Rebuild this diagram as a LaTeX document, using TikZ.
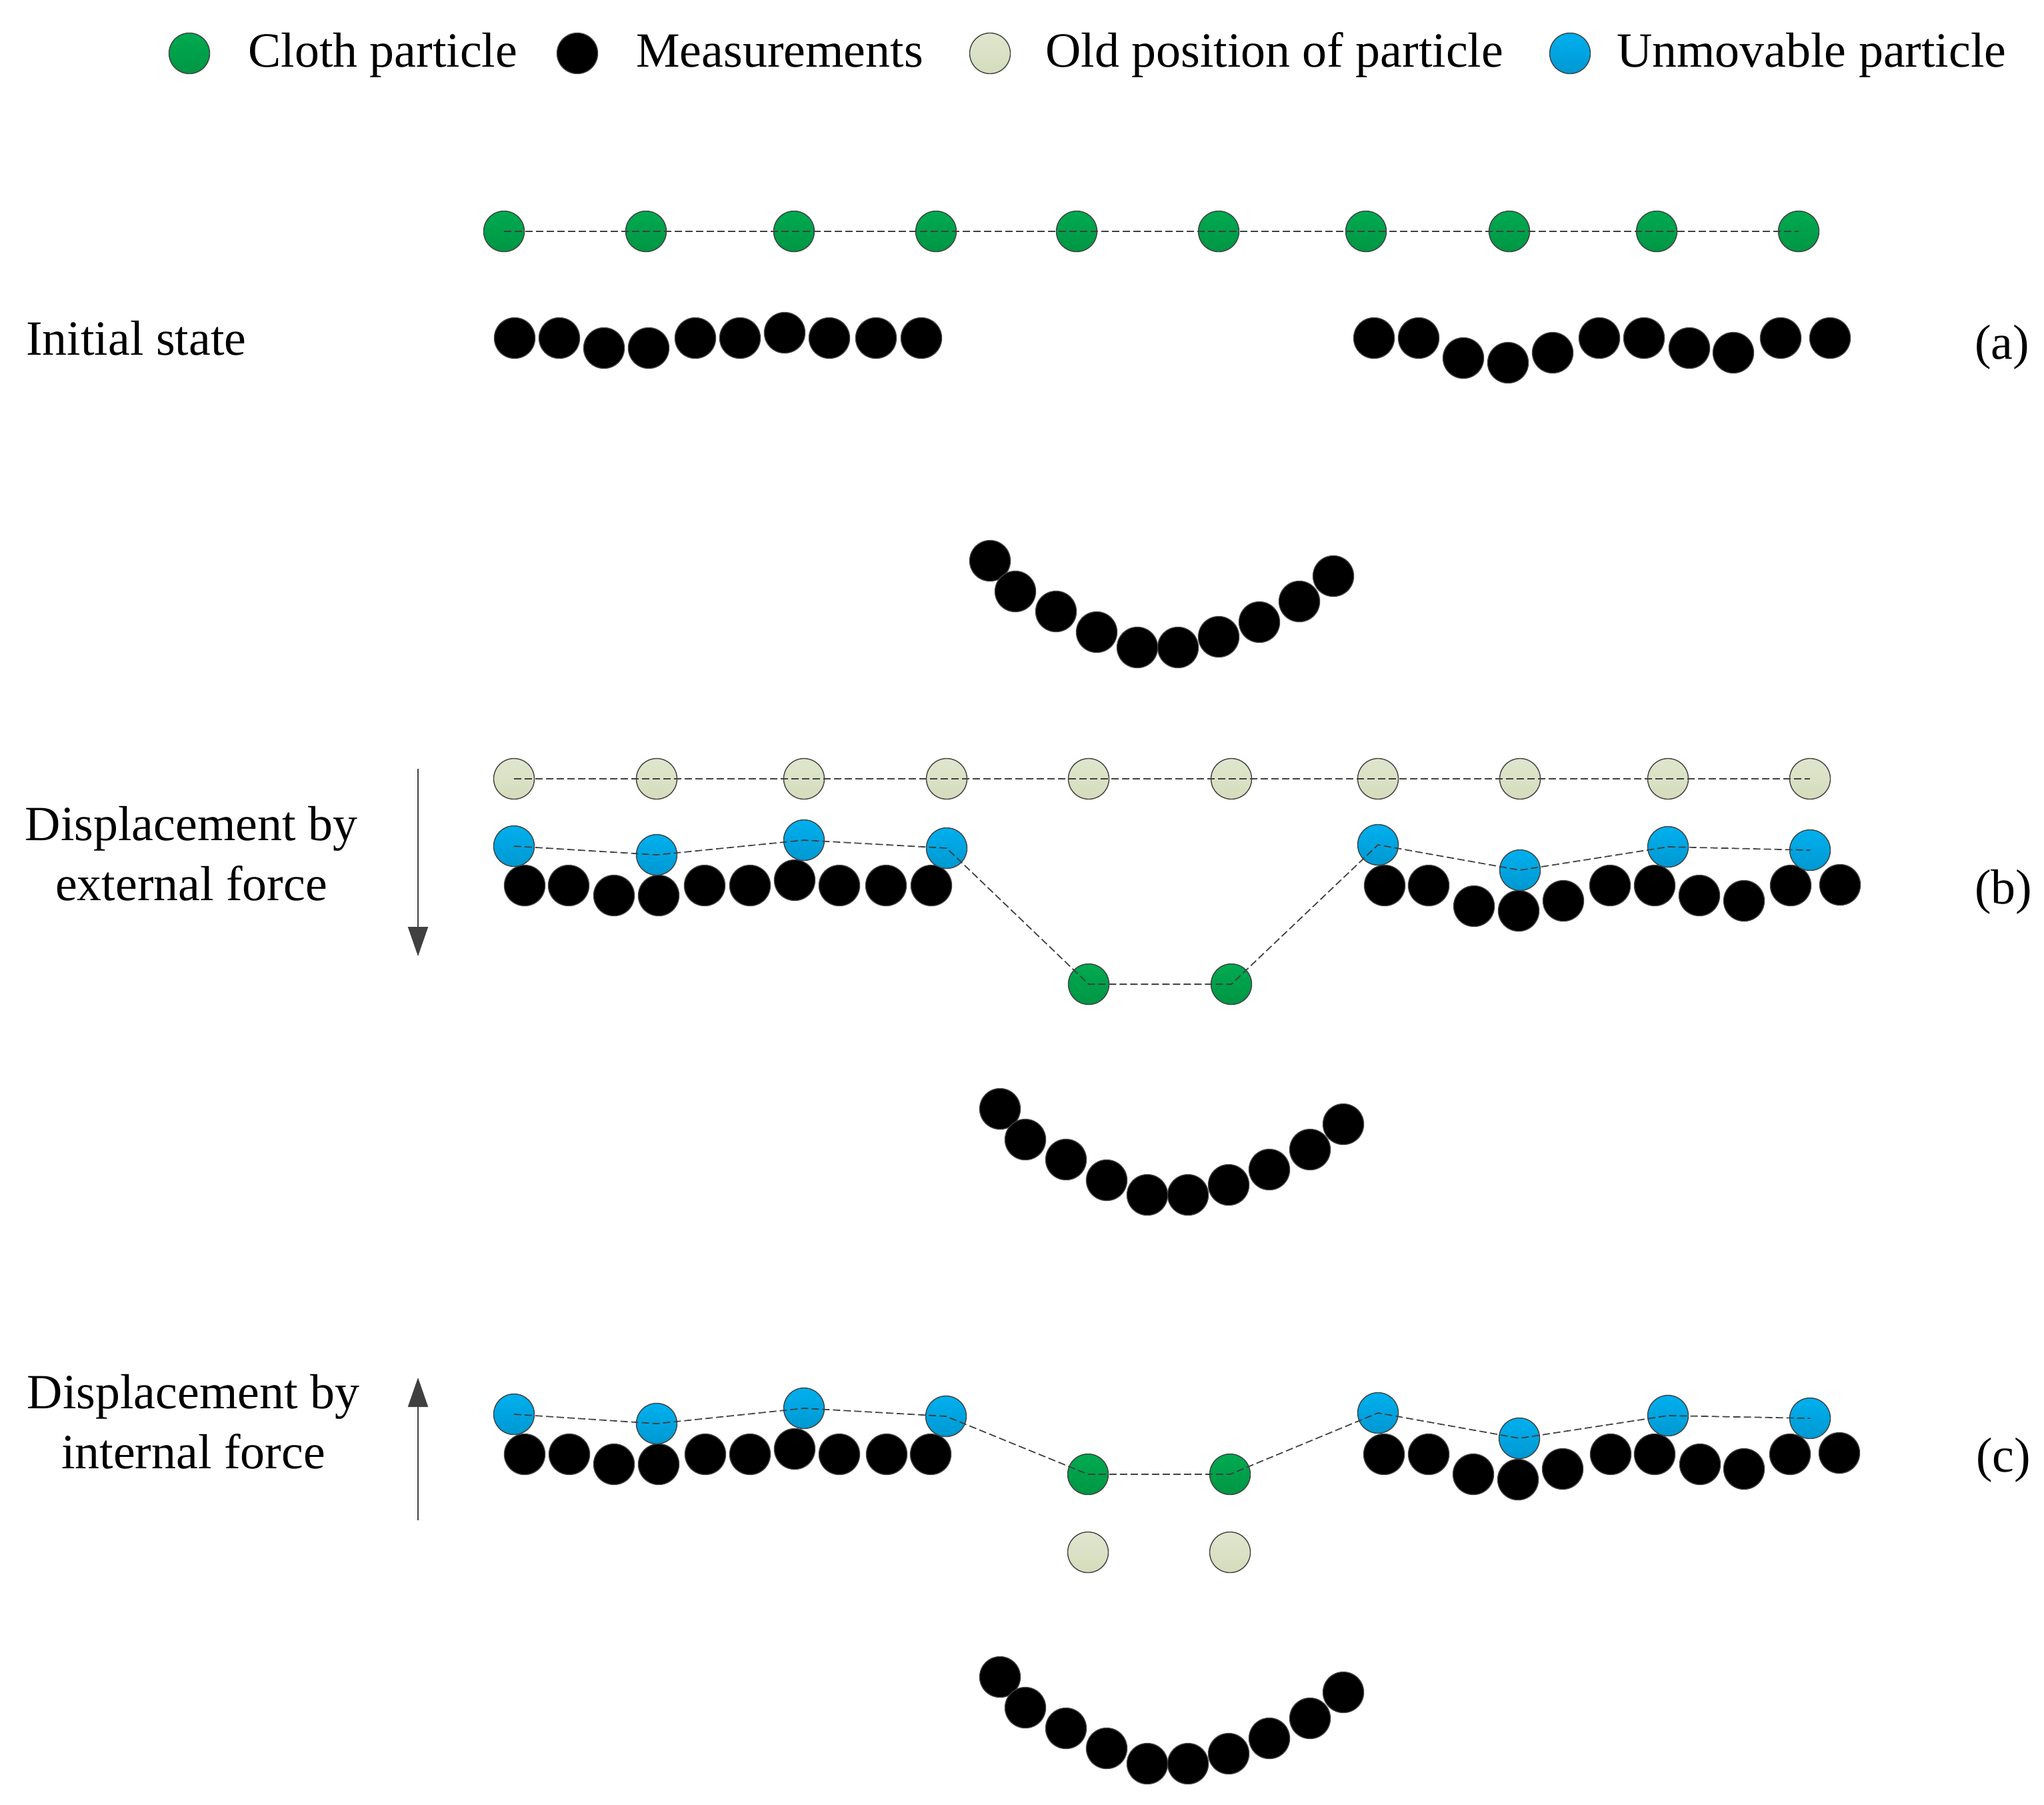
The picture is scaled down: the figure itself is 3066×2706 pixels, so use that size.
\documentclass[tikz,border=0pt]{standalone}
\usepackage{fontspec}
\setmainfont{Liberation Serif}
\usetikzlibrary{arrows.meta}
\definecolor{edge}{RGB}{64,64,64}
\definecolor{clothtop}{RGB}{0,170,80}
\definecolor{clothbot}{RGB}{0,150,68}
\definecolor{oldtop}{RGB}{224,230,206}
\definecolor{oldbot}{RGB}{212,220,188}
\definecolor{fixtop}{RGB}{0,176,238}
\definecolor{fixbot}{RGB}{0,152,210}
\begin{document}
\begin{tikzpicture}[x=0.2mm,y=-0.2mm,
  particle/.style={circle,draw=edge,line width=0.8pt,minimum size=12.2mm,inner sep=0pt},
  cloth/.style={particle,top color=clothtop,bottom color=clothbot},
  meas/.style={particle,fill=black},
  oldpos/.style={particle,top color=oldtop,bottom color=oldbot},
  fixed/.style={particle,top color=fixtop,bottom color=fixbot},
  link/.style={draw=edge,line width=1pt,dash pattern=on 2.2mm off 1mm},
  lbl/.style={font=\fontsize{42}{51}\selectfont,inner sep=0pt},
  force/.style={draw=edge,line width=1.1pt,-{Triangle[length=8.8mm,width=6mm]}}
]
\useasboundingbox[fill=white] (0,0) rectangle (3066,2706);

% legend
\node[cloth] (lg) at (284,80) {};
\node[lbl,anchor=base west] (tg) at (372,100) {Cloth particle};
\node[meas] (lm) at (866,80) {};
\node[lbl,anchor=base west] (tm) at (954,100) {Measurements};
\node[oldpos] (lo) at (1485,80) {};
\node[lbl,anchor=base west] (to) at (1568,100) {Old position of particle};
\node[fixed] (lu) at (2355,80) {};
\node[lbl,anchor=base west] (tu) at (2425,100) {Unmovable particle};

% ---------- (a) initial state ----------
\node[lbl,anchor=base west] (la) at (39,532) {Initial state};
\node[lbl,anchor=base west] (pa) at (2962,538) {(a)};
\foreach \x [count=\i] in {756,969,1191,1404,1615,1828,2049,2264,2485,2698}
  \node[cloth] (ag\i) at (\x,347) {};
\foreach \x/\y [count=\i] in {772/507,839/507,906/522,973/522,1043/507,1110/507,1177/499,1244/507,1314/507,1382/507,
  2061/507,2128/507,2195/537,2262/544,2329/529,2399/507,2466/507,2534/522,2600/529,2671/507,2745/507}
  \node[meas] (am\i) at (\x,\y) {};
\foreach \x/\y [count=\i] in {1485/841,1523/887,1584/917,1645/948,1706/971,1767/971,1828/955,1889/933,1949/902,2000/864}
  \node[meas] (ac\i) at (\x,\y) {};
\draw[link] (ag1.center) -- (ag2.center) -- (ag3.center) -- (ag4.center) -- (ag5.center) -- (ag6.center) -- (ag7.center) -- (ag8.center) -- (ag9.center) -- (ag10.center);

% ---------- (b) external force ----------
\node[lbl,anchor=base] (lb1) at (287,1260) {Displacement by};
\node[lbl,anchor=base] (lb2) at (287,1350) {external force};
\node[lbl,anchor=base west] (pb) at (2962,1355) {(b)};
\coordinate (fb1) at (627,1153);
\coordinate (fb2) at (627,1434);
\draw[force] (fb1) -- (fb2);
\foreach \x [count=\i] in {771,985,1206,1420,1633,1847,2067,2280,2502,2715}
  \node[oldpos] (bo\i) at (\x,1168) {};
\draw[link] (bo1.center) -- (bo2.center) -- (bo3.center) -- (bo4.center) -- (bo5.center) -- (bo6.center) -- (bo7.center) -- (bo8.center) -- (bo9.center) -- (bo10.center);
\foreach \x/\y [count=\i] in {787/1328,853/1328,921/1343,988/1343,1057/1328,1125/1328,1192/1320,1259/1328,1329/1328,1397/1328,
  2077/1328,2143/1328,2211/1359,2278/1366,2345/1351,2415/1328,2482/1328,2549/1343,2616/1351,2686/1328,2760/1327}
  \node[meas] (bm\i) at (\x,\y) {};
\foreach \x/\y [count=\i] in {771/1269,985/1282,1206/1260,1420/1272,2067/1267,2280/1305,2502/1270,2715/1275}
  \node[fixed] (bu\i) at (\x,\y) {};
\node[cloth] (bg1) at (1633,1476) {};
\node[cloth] (bg2) at (1847,1476) {};
\foreach \x/\y [count=\i] in {1500/1663,1538/1709,1599/1739,1660/1770,1721/1792,1782/1792,1843/1777,1904/1754,1965/1724,2015/1686}
  \node[meas] (bc\i) at (\x,\y) {};
\draw[link] (bu1.center) -- (bu2.center) -- (bu3.center) -- (bu4.center) -- (bg1.center) -- (bg2.center) -- (bu5.center) -- (bu6.center) -- (bu7.center) -- (bu8.center);

% ---------- (c) internal force ----------
\node[lbl,anchor=base] (lc1) at (290,2112) {Displacement by};
\node[lbl,anchor=base] (lc2) at (290,2202) {internal force};
\node[lbl,anchor=base west] (pc) at (2964,2207) {(c)};
\coordinate (fc1) at (627,2280);
\coordinate (fc2) at (627,2066);
\draw[force] (fc1) -- (fc2);
\foreach \x/\y [count=\i] in {787/2181,854/2181,921/2196,988/2196,1058/2181,1125/2181,1192/2173,1259/2181,1330/2181,1396/2181,
  2076/2181,2143/2181,2210/2211,2277/2219,2344/2203,2416/2181,2482/2181,2550/2196,2616/2203,2685/2181,2759/2179}
  \node[meas] (cm\i) at (\x,\y) {};
\foreach \x/\y [count=\i] in {771/2121,985/2135,1206/2112,1419/2124,2067/2119,2279/2157,2502/2123,2715/2127}
  \node[fixed] (cu\i) at (\x,\y) {};
\node[cloth] (cg1) at (1632,2211) {};
\node[cloth] (cg2) at (1845,2211) {};
\node[oldpos] (co1) at (1632,2328) {};
\node[oldpos] (co2) at (1845,2328) {};
\foreach \x/\y [count=\i] in {1500/2515,1538/2561,1599/2592,1660/2622,1721/2645,1782/2645,1843/2630,1904/2607,1965/2577,2015/2538}
  \node[meas] (cc\i) at (\x,\y) {};
\draw[link] (cu1.center) -- (cu2.center) -- (cu3.center) -- (cu4.center) -- (cg1.center) -- (cg2.center) -- (cu5.center) -- (cu6.center) -- (cu7.center) -- (cu8.center);
\end{tikzpicture}
\end{document}
